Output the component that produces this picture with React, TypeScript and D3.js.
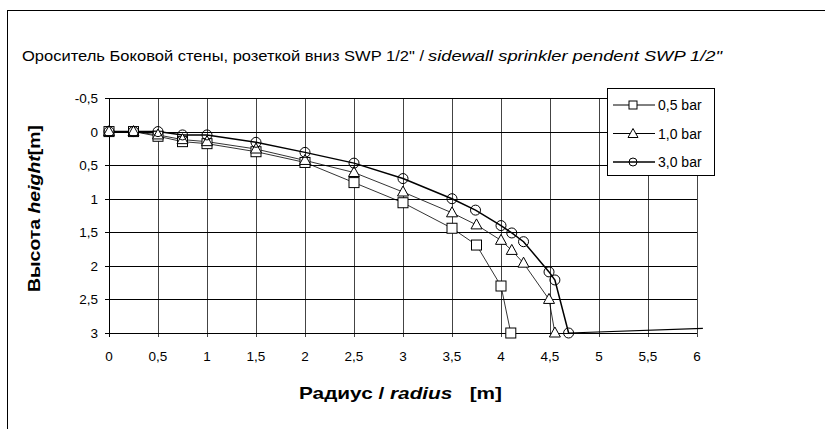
import React, { useRef, useEffect } from "react";
import * as d3 from "d3";

// radius [m] / height [m] for each pressure
const radius05 = [0, 0.25, 0.5, 0.75, 1, 1.5, 2, 2.5, 3, 3.5, 3.75, 4, 4.1];
const height05 = [0, 0, 0.07, 0.15, 0.18, 0.3, 0.46, 0.76, 1.06, 1.44, 1.69, 2.3, 3];

const radius10 = [0, 0.25, 0.5, 0.75, 1, 1.5, 2, 2.5, 3, 3.5, 3.75, 4, 4.11, 4.23, 4.49, 4.55];
const height10 = [0, 0, 0.05, 0.12, 0.15, 0.26, 0.43, 0.61, 0.9, 1.21, 1.39, 1.62, 1.77, 1.96, 2.5, 3];

const radius30 = [0, 0.25, 0.5, 0.75, 1, 1.5, 2, 2.5, 3, 3.5, 3.74, 4, 4.11, 4.23, 4.49, 4.55, 4.69];
const height30 = [0, 0, 0, 0.05, 0.05, 0.16, 0.31, 0.47, 0.7, 1.0, 1.17, 1.4, 1.51, 1.64, 2.09, 2.21, 3];

// stray trailing segment of the 3,0 bar line (no marker)
const tailRadius = [4.69, 6.06];
const tailHeight = [3, 2.93];

const xTicks = [0, 0.5, 1, 1.5, 2, 2.5, 3, 3.5, 4, 4.5, 5, 5.5, 6];
const yTicks = [-0.5, 0, 0.5, 1, 1.5, 2, 2.5, 3];
const seriesNames = ["0,5 bar", "1,0 bar", "3,0 bar"];

const fmt = (v: number) => String(v).replace(".", ",");

export default function App() {
  const svgRef = useRef<SVGSVGElement>(null);

  useEffect(() => {
    const svg = d3.select(svgRef.current);
    svg.selectAll("*").remove();

    const font = "'Liberation Sans', Arial, sans-serif";
    const left = 109, right = 697, top = 98, bottom = 333;

    const x = d3.scaleLinear().domain([0, 6]).range([left, right]);
    const y = d3.scaleLinear().domain([-0.5, 3]).range([top, bottom]);

    // outer frame (only left and top visible)
    svg.append("line").attr("x1", 7.5).attr("x2", 7.5).attr("y1", 10).attr("y2", 429).attr("stroke", "#000");
    svg.append("line").attr("x1", 7).attr("x2", 825).attr("y1", 10.5).attr("y2", 10.5).attr("stroke", "#000");

    // title
    const title = svg.append("text").attr("y", 61).attr("font-family", font).attr("font-size", 15).attr("fill", "#000")
      .attr("xml:space", "preserve");
    title.append("tspan").attr("x", 22).attr("textLength", 402).attr("lengthAdjust", "spacingAndGlyphs")
      .text("Ороситель Боковой стены, розеткой вниз SWP 1/2\" /");
    title.append("tspan").attr("x", 428).attr("font-style", "italic").attr("textLength", 294).attr("lengthAdjust", "spacingAndGlyphs")
      .text("sidewall sprinkler pendent SWP 1/2\"");

    // grid
    const g = svg.append("g").attr("shape-rendering", "crispEdges");
    g.selectAll(".vgrid").data(xTicks).enter().append("line")
      .attr("x1", (d) => Math.round(x(d)) + 0.5).attr("x2", (d) => Math.round(x(d)) + 0.5)
      .attr("y1", top).attr("y2", bottom + 4)
      .attr("stroke", (d) => (d === 0 ? "#000" : "#444"));
    g.selectAll(".hgrid").data(yTicks).enter().append("line")
      .attr("x1", left - 4).attr("x2", right)
      .attr("y1", (d) => Math.round(y(d)) + 0.5).attr("y2", (d) => Math.round(y(d)) + 0.5)
      .attr("stroke", "#000");
    g.append("line").attr("x1", left + 0.5).attr("x2", left + 0.5).attr("y1", top).attr("y2", bottom)
      .attr("stroke", "#000").attr("stroke-width", 1.5);

    // tick labels
    svg.append("g").selectAll("text").data(xTicks).enter().append("text")
      .attr("x", (d) => x(d)).attr("y", 361).attr("text-anchor", "middle")
      .attr("font-family", font).attr("font-size", 13.5).text((d) => fmt(d));
    svg.append("g").selectAll("text").data(yTicks).enter().append("text")
      .attr("x", 98).attr("y", (d) => y(d) + 5).attr("text-anchor", "end")
      .attr("font-family", font).attr("font-size", 13.5).text((d) => fmt(d));

    // axis titles
    const xt = svg.append("text").attr("x", 299).attr("y", 399)
      .attr("font-family", font).attr("font-size", 17).attr("font-weight", "bold")
      .attr("textLength", 203).attr("lengthAdjust", "spacingAndGlyphs").attr("xml:space", "preserve");
    xt.append("tspan").text("Радиус / ");
    xt.append("tspan").attr("font-style", "italic").text("radius");
    xt.append("tspan").text("   [m]");

    const yt = svg.append("text").attr("transform", "translate(40,292) rotate(-90)")
      .attr("font-family", font).attr("font-size", 17).attr("font-weight", "bold")
      .attr("textLength", 167).attr("lengthAdjust", "spacingAndGlyphs").attr("xml:space", "preserve");
    yt.append("tspan").text("Высота ");
    yt.append("tspan").attr("font-style", "italic").text("height");
    yt.append("tspan").text("[m]");

    const line = d3.line<[number, number]>().x((d) => x(d[0])).y((d) => y(d[1]));
    const pts = (rs: number[], hs: number[]) => rs.map((r, i) => [r, hs[i]] as [number, number]);

    const s05 = pts(radius05, height05);
    const s10 = pts(radius10, height10);
    const s30 = pts(radius30, height30);

    svg.append("path").attr("d", line(s05)).attr("fill", "none").attr("stroke", "#000").attr("stroke-width", 0.8);
    svg.append("path").attr("d", line(s10)).attr("fill", "none").attr("stroke", "#000").attr("stroke-width", 0.8);
    svg.append("path").attr("d", line(s30)).attr("fill", "none").attr("stroke", "#000").attr("stroke-width", 1.5);
    svg.append("path").attr("d", line(pts(tailRadius, tailHeight))).attr("fill", "none").attr("stroke", "#000").attr("stroke-width", 1.2);

    const square = (sel: any, cx: number, cy: number) =>
      sel.append("rect").attr("x", cx - 5).attr("y", cy - 5).attr("width", 10).attr("height", 10)
        .attr("fill", "#fff").attr("stroke", "#000").attr("stroke-width", 1);
    const triangle = (sel: any, cx: number, cy: number) =>
      sel.append("path").attr("d", `M${cx},${cy - 6}L${cx + 5.5},${cy + 4}L${cx - 5.5},${cy + 4}Z`)
        .attr("fill", "#fff").attr("stroke", "#000").attr("stroke-width", 1);
    const circle = (sel: any, cx: number, cy: number) =>
      sel.append("circle").attr("cx", cx).attr("cy", cy).attr("r", 5)
        .attr("fill", "none").attr("stroke", "#000").attr("stroke-width", 1);

    const m = svg.append("g");
    s05.forEach((d) => square(m, x(d[0]), y(d[1])));
    s10.forEach((d) => triangle(m, x(d[0]), y(d[1])));
    s30.forEach((d) => circle(m, x(d[0]), y(d[1])));

    // legend
    const lg = svg.append("g");
    lg.append("rect").attr("x", 607.5).attr("y", 88.5).attr("width", 107).attr("height", 87)
      .attr("fill", "#fff").attr("stroke", "#000");
    seriesNames.forEach((name, i) => {
      const cy = 105 + i * 28.5;
      lg.append("line").attr("x1", 613).attr("x2", 655).attr("y1", cy).attr("y2", cy)
        .attr("stroke", "#000").attr("stroke-width", i === 2 ? 1.5 : 1);
      if (i === 0) {
        lg.append("rect").attr("x", 629).attr("y", cy - 4).attr("width", 8).attr("height", 8).attr("fill", "#fff").attr("stroke", "#000");
      } else if (i === 1) {
        lg.append("path").attr("d", `M633,${cy - 5}L638,${cy + 4}L628,${cy + 4}Z`).attr("fill", "#fff").attr("stroke", "#000");
      } else {
        lg.append("circle").attr("cx", 633).attr("cy", cy).attr("r", 4).attr("fill", "none").attr("stroke", "#000");
      }
      lg.append("text").attr("x", 658).attr("y", cy + 5).attr("font-family", font).attr("font-size", 14).text(name);
    });
  }, []);

  return (
    <svg
      ref={svgRef}
      width={825}
      height={429}
      style={{ position: "absolute", left: 0, top: 0, background: "#fff" }}
    />
  );
}
